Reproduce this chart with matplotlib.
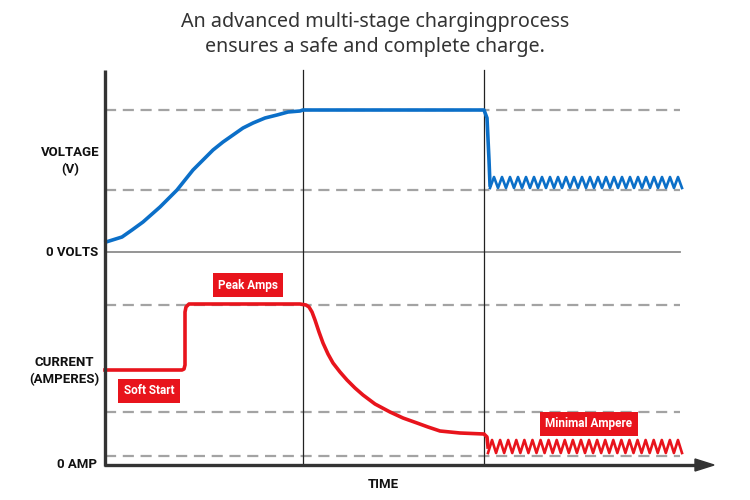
import matplotlib.pyplot as plt
import numpy as np
import matplotlib.patches as patches

# 폰트 설정
plt.rcParams['font.family'] = ['Roboto', 'DejaVu Sans']

# 화면 좌표(px) 기준으로 읽은 값
title_lines = ['An advanced multi-stage chargingprocess', 'ensures a safe and complete charge.']

# 전압 곡선 (x, y)
volt_rise_x = [106, 122, 132, 143, 160, 177, 193, 203, 213, 223, 233, 243, 253, 265, 277, 288, 300, 303]
volt_rise_y = [242, 237, 230, 222, 207, 190, 170, 160, 150, 142, 135, 128, 123, 118, 115, 112, 111, 110]
volt_flat_x = [303, 484, 487, 489, 490]
volt_flat_y = [110, 110, 118, 160, 185]
volt_ripple_hi, volt_ripple_lo = 177, 188
volt_ripple_start, volt_ripple_end, volt_ripples = 490, 682, 24

# 전류 곡선 (x, y)
amp_x = [105, 182, 184, 185, 185, 186, 189, 194, 300, 306, 309, 312, 315, 319, 323, 328, 333, 340,
         347, 355, 363, 375, 390, 403, 417, 428, 440, 460, 484, 487, 488]
amp_y = [370, 370, 369, 365, 312, 307, 304, 304, 304, 305, 307, 312, 320, 332, 343, 354, 363, 372,
         380, 388, 395, 404, 412, 418, 423, 427, 431, 433, 434, 437, 447]
amp_ripple_hi, amp_ripple_lo = 440, 453
amp_ripple_start, amp_ripple_end, amp_ripples = 488, 682, 24

dashed_levels = [110, 190, 305, 412, 456]
stage_lines = [303, 484]
zero_volt_level = 252

y_labels = [('VOLTAGE\n(V)', 70, 161, 'center'), ('0 VOLTS', 98, 253, 'right'),
            ('CURRENT\n(AMPERES)', 64, 371, 'center'), ('0 AMP', 97, 465, 'right')]
tags = [('Peak Amps', 248, 285), ('Soft Start', 149, 391), ('Minimal Ampere', 589, 424)]

fig = plt.figure(figsize=(7.5, 5), dpi=100)
ax = fig.add_axes([0, 0, 1, 1])
ax.set_xlim(0, 750)
ax.set_ylim(500, 0)
ax.axis('off')

blue = '#0b6fc8'
red = '#e8141c'
grey = '#a3a3a3'

# 점선 기준선
for lv in dashed_levels:
    ax.plot([105, 680], [lv, lv], color=grey, lw=1.6, dashes=(5, 3), zorder=1)
ax.plot([105, 680], [zero_volt_level] * 2, color='#8c8c8c', lw=1.3, zorder=1)

# 단계 구분선
for sx in stage_lines:
    ax.plot([sx, sx], [70, 465], color='#222222', lw=0.9, zorder=2)

# 축
ax.plot([105, 105], [70, 466], color='#333333', lw=2.4, zorder=4, solid_capstyle='butt')
ax.plot([104, 700], [465, 465], color='#333333', lw=2.4, zorder=4, solid_capstyle='butt')
ax.add_patch(patches.Polygon([[695, 459], [714, 465], [695, 471]], closed=True,
                             color='#333333', zorder=4))

def ripple(x0, x1, n, hi, lo):
    xs = np.linspace(x0, x1, 2 * n + 1)
    ys = np.tile([lo, hi], n + 1)[:2 * n + 1]
    return xs, ys

# 전압
vx = volt_rise_x + volt_flat_x
vy = volt_rise_y + volt_flat_y
ax.plot(vx, vy, color=blue, lw=2.6, zorder=3)
rx, ry = ripple(volt_ripple_start, volt_ripple_end, volt_ripples, volt_ripple_hi, volt_ripple_lo)
ax.plot(rx, ry, color=blue, lw=1.9, zorder=3)

# 전류
ax.plot(amp_x, amp_y, color=red, lw=2.6, zorder=3)
rx, ry = ripple(amp_ripple_start, amp_ripple_end, amp_ripples, amp_ripple_hi, amp_ripple_lo)
ax.plot(rx, ry, color=red, lw=1.9, zorder=3)

# 레이블
for txt, x, y, ha in y_labels:
    ax.text(x, y, txt, ha=ha, va='center', fontsize=9.5, fontweight='bold',
            color='#111111', linespacing=1.35)
ax.text(383, 485, 'TIME', ha='center', va='center', fontsize=9.5, fontweight='bold', color='#111111')

for txt, x, y in tags:
    ax.text(x, y, txt, ha='center', va='center', fontsize=8.5, fontweight='bold', color='white',
            zorder=5, bbox=dict(boxstyle='square,pad=0.45', fc=red, ec='none'))

# 제목
for i, line in enumerate(title_lines):
    ax.text(375, 22 + i * 25, line, ha='center', va='center', fontsize=14.2,
            family=['Noto Sans', 'DejaVu Sans'], color='#333333')

plt.savefig('out.png', dpi=100)
